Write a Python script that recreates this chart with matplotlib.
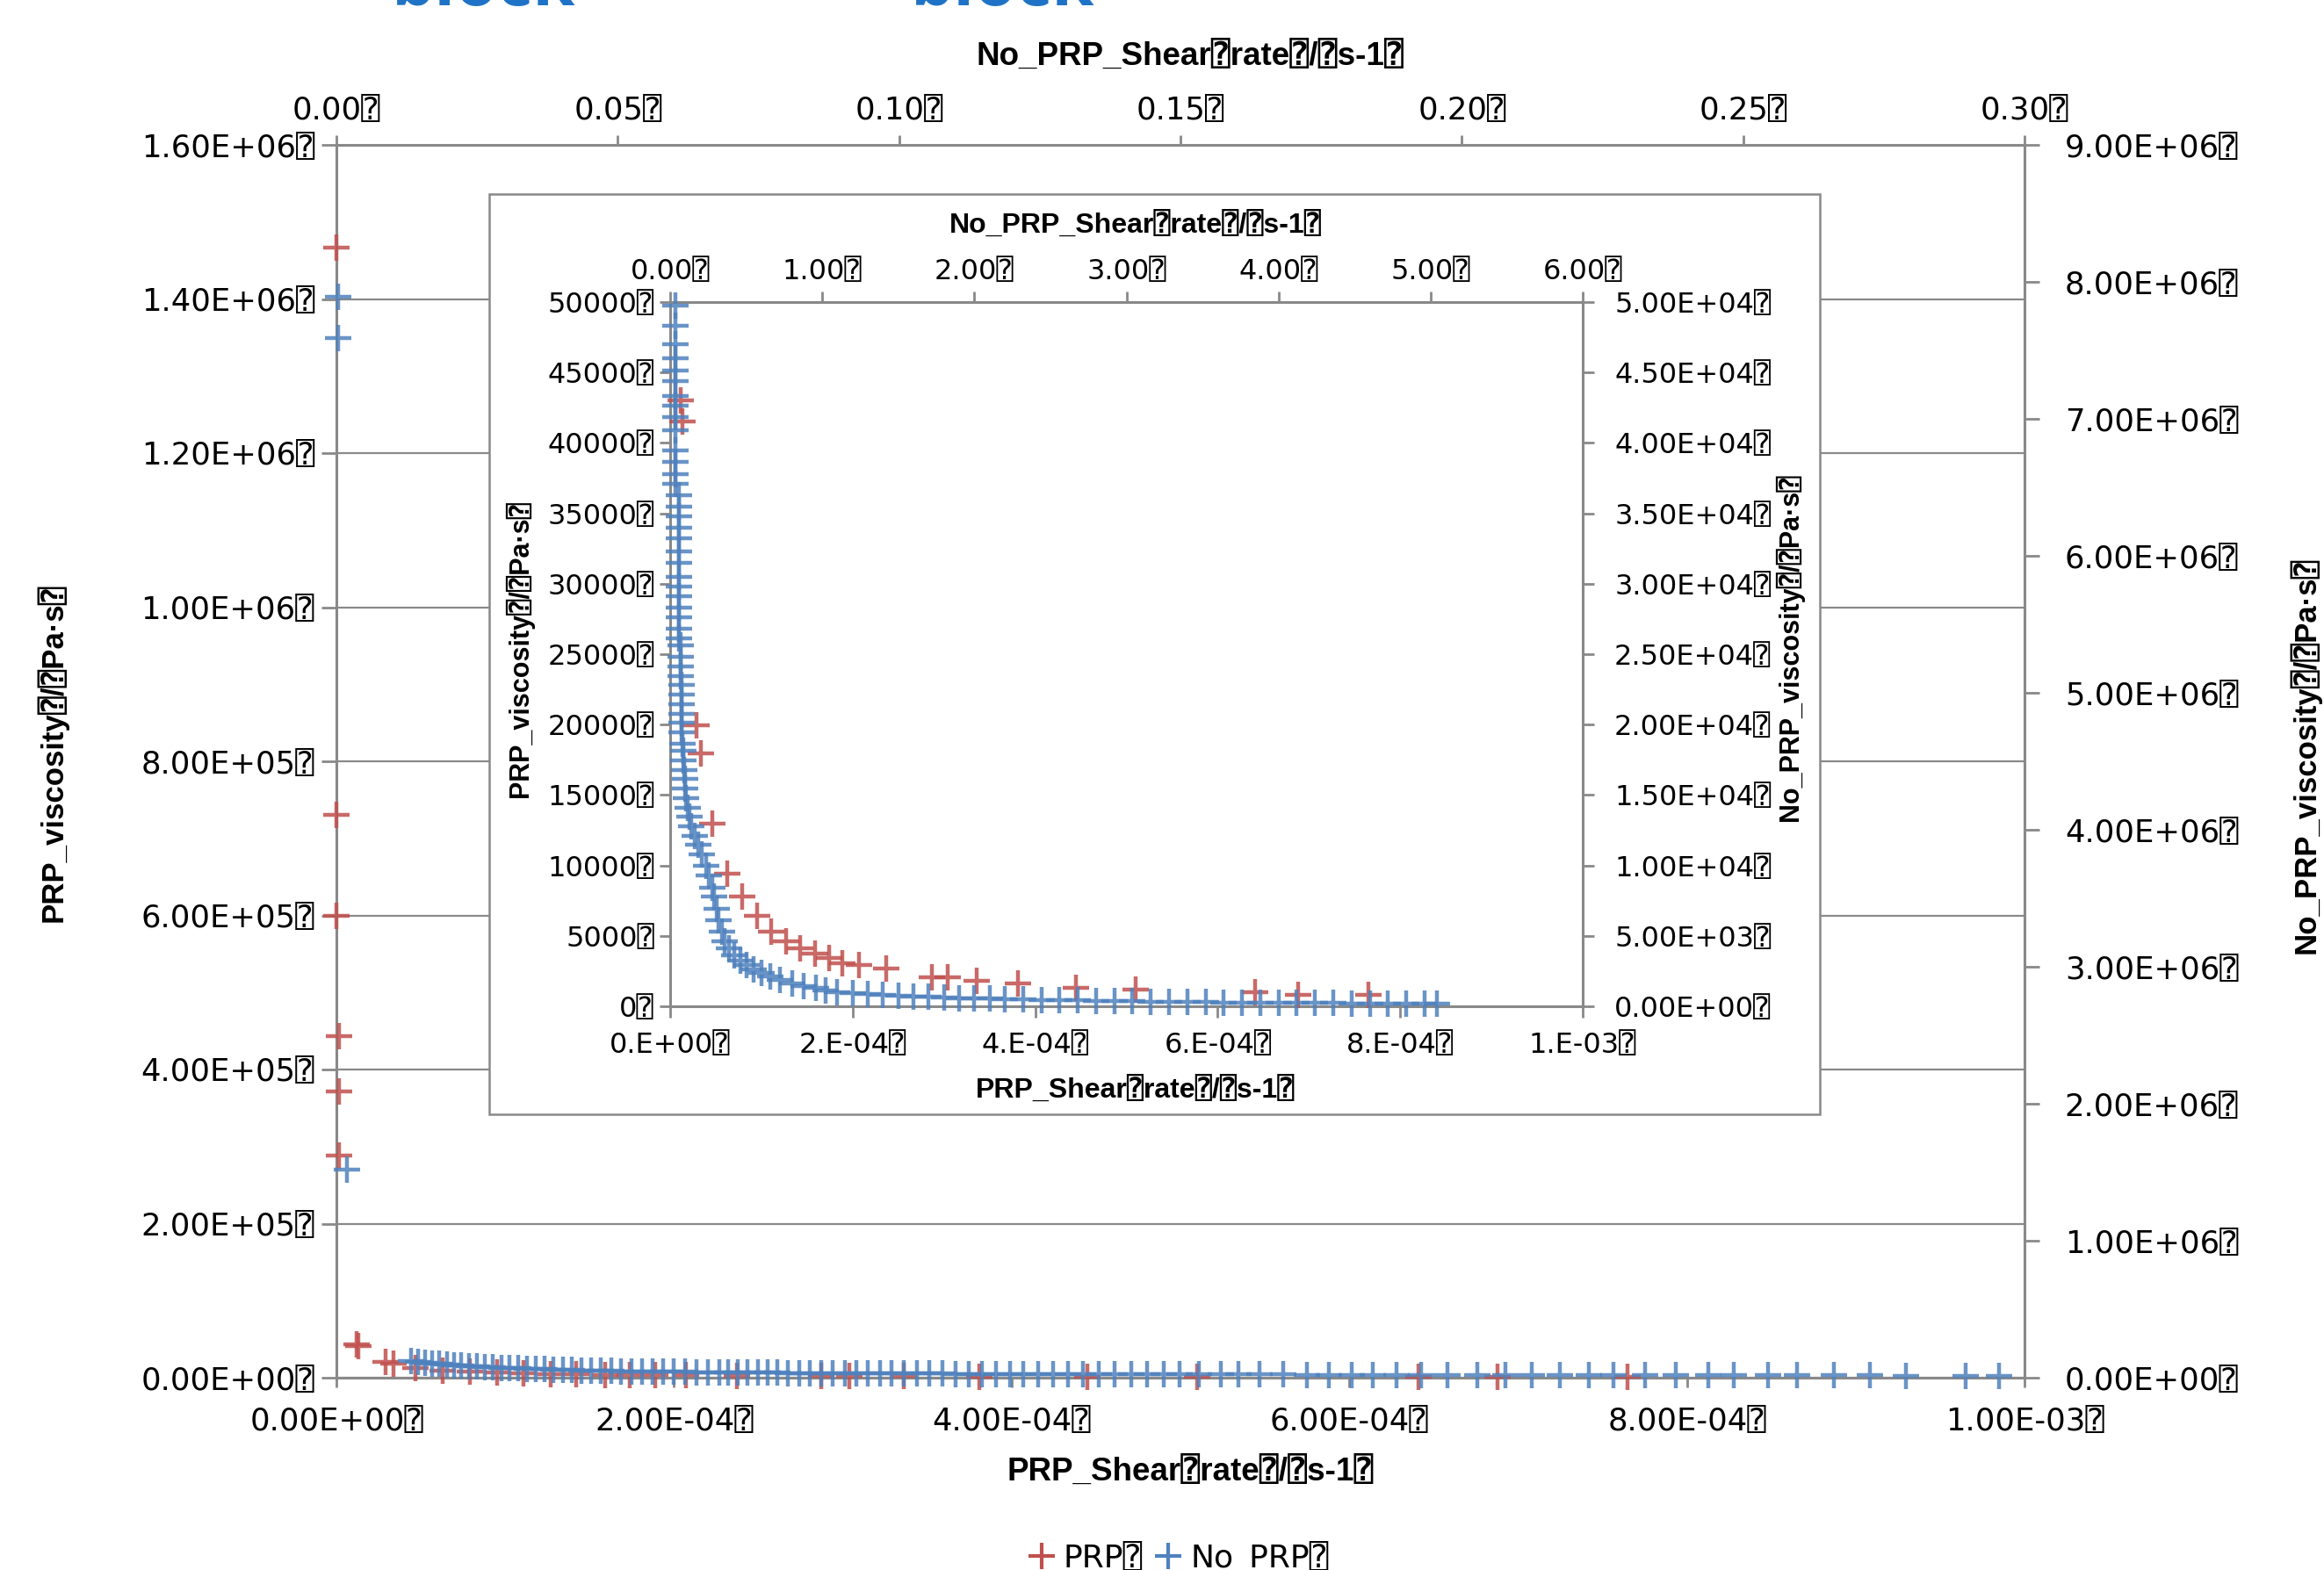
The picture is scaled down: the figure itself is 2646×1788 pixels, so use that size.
import matplotlib
matplotlib.use('Agg')
import matplotlib.pyplot as plt
from matplotlib.lines import Line2D
from matplotlib.patches import Rectangle
import numpy as np

plt.rcParams['font.family'] = ['DejaVu Sans', 'DejaVu Sans Mono']

Q = '\u2370'

# ---------------- data ----------------
# PRP series (shear rate s-1, viscosity Pa.s) - bottom / left axes
prp_rate = [0.0, 0.0, 0.0, 1.5e-6, 1.5e-6, 1.5e-6, 1.2e-5, 1.3e-5, 2.89e-5, 3.37e-5,
            4.66e-5, 6.3e-5, 7.9e-5, 9.5e-5, 1.11e-4, 1.27e-4, 1.42e-4, 1.59e-4, 1.74e-4,
            1.89e-4, 2.07e-4, 2.37e-4, 2.87e-4, 3.04e-4, 3.36e-4, 3.81e-4, 4.45e-4,
            5.10e-4, 6.41e-4, 6.88e-4, 7.65e-4]
prp_visc = [1.467e6, 7.30e5, 6.00e5, 4.43e5, 3.71e5, 2.88e5, 43000, 41500, 19970, 17970,
            12950, 9440, 7780, 6450, 5280, 4610, 4100, 3770, 3400,
            3050, 2900, 2670, 2040, 2040, 1830, 1620, 1300,
            1200, 990, 780, 780]

# No_PRP series as drawn in the main chart - top / right axes
main_noprp_rate = [0.0003, 0.0003, 0.0019,
    0.0133, 0.0145, 0.0158, 0.0170, 0.0183, 0.0196, 0.0209, 0.0222, 0.0236, 0.0250,
    0.0264, 0.0278, 0.0293, 0.0308, 0.0323, 0.0338, 0.0354, 0.0370, 0.0386, 0.0402,
    0.0419, 0.0436, 0.0453, 0.0470, 0.0488, 0.0506, 0.0524, 0.0543, 0.0562, 0.0581,
    0.0600, 0.0620, 0.0640, 0.0660, 0.0680,
    0.0696, 0.0713, 0.0731, 0.0749, 0.0766, 0.0784, 0.0803, 0.0822, 0.0842, 0.0862,
    0.0882, 0.0903, 0.0924, 0.0945, 0.0966, 0.0987, 0.1009, 0.1031, 0.1054, 0.1077,
    0.1100, 0.1124, 0.1148, 0.1172, 0.1197, 0.1221, 0.1247, 0.1273, 0.1300, 0.1327,
    0.1355, 0.1383, 0.1412, 0.1440, 0.1470,
    0.1498, 0.1533, 0.1572, 0.1603, 0.1640, 0.1682, 0.1725, 0.1764, 0.1804, 0.1842,
    0.1884, 0.1928, 0.1974, 0.2028, 0.2077, 0.2124, 0.2174, 0.2226, 0.2270, 0.2326,
    0.2380, 0.2438, 0.2483, 0.2544, 0.2596, 0.2661, 0.2725, 0.2789, 0.2896, 0.2954]
main_noprp_visc = [7.89e6, 7.59e6, 1.52e6,
    120000, 115000, 110000, 105000, 100000, 96000, 92000, 88000, 85000, 82000,
    79000, 76000, 73000, 70000, 68000, 66000, 64000, 62000, 60000, 58000,
    56000, 54000, 52000, 50000, 49000, 48000, 47000, 46000, 45000, 44000,
    43000, 42000, 41000, 40000, 39000,
    38000, 37500, 37000, 36500, 36000, 35500, 35000, 34500, 34000, 33500,
    33000, 32500, 32000, 31600, 31200, 30800, 30400, 30000, 29600, 29200,
    28800, 28400, 28000, 27700, 27400, 27100, 26800, 26500, 26200, 25900,
    25600, 25300, 25000, 24700, 24400,
    24100, 23800, 23500, 23200, 22900, 22600, 22300, 22000, 21700, 21400,
    21100, 20800, 20500, 20200, 19900, 19600, 19300, 19000, 18700, 18400,
    18100, 17800, 17500, 17200, 16900, 16600, 16300, 16000, 15500, 15200]

# No_PRP series as drawn in the inset - top / right axes of the inset
inset_noprp_rate = [
    0.034, 0.034, 0.035, 0.035, 0.035, 0.035, 0.036, 0.036, 0.036, 0.036, 0.037, 0.037, 0.037, 0.037,
    0.055, 0.055, 0.055, 0.056, 0.056, 0.056, 0.056, 0.057, 0.057, 0.057, 0.058, 0.058, 0.058, 0.059,
    0.071, 0.071, 0.072, 0.072, 0.073, 0.073, 0.074, 0.074, 0.075, 0.076, 0.078,
    0.085, 0.088, 0.092, 0.096, 0.100, 0.105, 0.115, 0.125, 0.140, 0.160, 0.185, 0.210,
    0.235, 0.255, 0.275, 0.290, 0.305, 0.320, 0.340, 0.360, 0.385, 0.420, 0.460, 0.500,
    0.550, 0.600, 0.660, 0.720, 0.800, 0.880, 0.960, 1.020,
    1.10, 1.20, 1.30, 1.40, 1.50, 1.60, 1.70, 1.80, 1.90, 2.00, 2.10, 2.20, 2.32, 2.44,
    2.56, 2.68, 2.80, 2.92, 3.04, 3.16, 3.28, 3.40, 3.52, 3.64, 3.76, 3.88, 4.00, 4.12,
    4.24, 4.36, 4.48, 4.60, 4.72, 4.84, 4.96, 5.04]
inset_noprp_visc = [
    49760, 48320, 46990, 45990, 45150, 44390, 43320, 42650, 41820, 40880, 39480, 38650, 37810, 37080,
    36310, 35480, 34800, 33970, 33210, 32310, 31470, 30470, 29800, 29130, 28300, 27630, 26800, 26130,
    25640, 24800, 24130, 23460, 22800, 22130, 21460, 20790, 20120, 19460, 18620,
    18120, 17460, 16790, 16120, 15450, 14780, 14110, 13450, 12780, 12120, 11450, 10780,
    9950, 9280, 8440, 7780, 6950, 6110, 5280, 4610, 4110, 3610, 3270, 2940,
    2600, 2370, 2110, 1870, 1600, 1440, 1280, 1100,
    1000, 930, 860, 800, 750, 700, 660, 620, 590, 560, 530, 500, 470, 450,
    430, 410, 390, 370, 350, 335, 320, 305, 290, 280, 270, 260, 250, 240,
    230, 220, 210, 200, 190, 180, 170, 160]

# tick values / labels
main_x_ticks = [0, 2e-4, 4e-4, 6e-4, 8e-4, 1e-3]
main_x_labels = ['0.00E+00', '2.00E-04', '4.00E-04', '6.00E-04', '8.00E-04', '1.00E-03']
main_top_ticks = [0.0, 0.05, 0.10, 0.15, 0.20, 0.25, 0.30]
main_top_labels = ['0.00', '0.05', '0.10', '0.15', '0.20', '0.25', '0.30']
main_y_ticks = [0, 2e5, 4e5, 6e5, 8e5, 1e6, 1.2e6, 1.4e6, 1.6e6]
main_y_labels = ['0.00E+00', '2.00E+05', '4.00E+05', '6.00E+05', '8.00E+05',
                 '1.00E+06', '1.20E+06', '1.40E+06', '1.60E+06']
main_r_ticks = [0, 1e6, 2e6, 3e6, 4e6, 5e6, 6e6, 7e6, 8e6, 9e6]
main_r_labels = ['0.00E+00', '1.00E+06', '2.00E+06', '3.00E+06', '4.00E+06',
                 '5.00E+06', '6.00E+06', '7.00E+06', '8.00E+06', '9.00E+06']
ins_x_ticks = [0, 2e-4, 4e-4, 6e-4, 8e-4, 1e-3]
ins_x_labels = ['0.E+00', '2.E-04', '4.E-04', '6.E-04', '8.E-04', '1.E-03']
ins_top_ticks = [0, 1, 2, 3, 4, 5, 6]
ins_top_labels = ['0.00', '1.00', '2.00', '3.00', '4.00', '5.00', '6.00']
ins_y_ticks = [0, 5000, 10000, 15000, 20000, 25000, 30000, 35000, 40000, 45000, 50000]
ins_y_labels = ['0', '5000', '10000', '15000', '20000', '25000', '30000', '35000',
                '40000', '45000', '50000']
ins_r_ticks = [0, 5e3, 1e4, 1.5e4, 2e4, 2.5e4, 3e4, 3.5e4, 4e4, 4.5e4, 5e4]
ins_r_labels = ['0.00E+00', '5.00E+03', '1.00E+04', '1.50E+04', '2.00E+04', '2.50E+04',
                '3.00E+04', '3.50E+04', '4.00E+04', '4.50E+04', '5.00E+04']

series_names = ['PRP', 'No_PRP']

# ---------------- style ----------------
RED = '#C0504D'
BLUE = '#4F81BD'
GRAY = '#898989'
TITLE_FONT = ['Liberation Sans Narrow', 'Liberation Sans', 'DejaVu Sans', 'DejaVu Sans Mono']

W, H = 2646, 1788
fig = plt.figure(figsize=(W / 100, H / 100), dpi=100)


def rect(l, t, r, b):
    return [l / W, 1 - b / H, (r - l) / W, (b - t) / H]


def fxy(x, y):
    return x / W, 1 - y / H


def q(labels):
    return [s + Q for s in labels]


mk = dict(marker='+', ls='none', mew=3.2, alpha=0.85, clip_on=False)

MT = 25.5   # main tick label size
IT = 23     # inset tick label size

# ---- main axes ----
mrect = rect(383, 165, 2305, 1569)
ax = fig.add_axes(mrect, zorder=0)
ax2 = fig.add_axes(mrect, zorder=1, facecolor='none')

ax.set_xlim(0, 1e-3)
ax.set_ylim(0, 1.6e6)
ax.set_xticks(main_x_ticks)
ax.set_xticklabels(q(main_x_labels))
ax.set_yticks(main_y_ticks)
ax.set_yticklabels(q(main_y_labels))
ax.yaxis.grid(True, color=GRAY, lw=1.6)
ax.set_axisbelow(True)
for s in ax.spines.values():
    s.set_color(GRAY)
    s.set_linewidth(2.2)
ax.tick_params(axis='x', direction='out', length=8, width=2, color=GRAY,
               labelsize=MT, pad=16)
ax.tick_params(axis='y', direction='out', length=12, width=2, color=GRAY,
               labelsize=MT, pad=6)

ax2.set_xlim(0, 0.30)
ax2.set_ylim(0, 9e6)
ax2.xaxis.tick_top()
ax2.yaxis.tick_right()
ax2.set_xticks(main_top_ticks)
ax2.set_xticklabels(q(main_top_labels))
ax2.set_yticks(main_r_ticks)
ax2.set_yticklabels(q(main_r_labels))
for s in ax2.spines.values():
    s.set_visible(False)
ax2.tick_params(axis='x', direction='out', length=8, width=2, color=GRAY,
                labelsize=MT, pad=8)
ax2.tick_params(axis='y', direction='out', length=12, width=2, color=GRAY,
                labelsize=MT, pad=21)

ax.plot(prp_rate, prp_visc, color=RED, ms=22, zorder=3, **mk)
ax2.plot(main_noprp_rate, main_noprp_visc, color=BLUE, ms=22, zorder=3, **mk)

# ---- inset frame ----
fig.add_artist(Rectangle(fxy(557, 1269), (2072 - 557) / W, (1269 - 221) / H,
                         transform=fig.transFigure, facecolor='white',
                         edgecolor=GRAY, lw=1.8, zorder=2))

# ---- inset axes ----
irect = rect(763, 344, 1802, 1146)
ins = fig.add_axes(irect, zorder=3)
ins2 = fig.add_axes(irect, zorder=4, facecolor='none')

ins.set_xlim(0, 1e-3)
ins.set_ylim(0, 50000)
ins.set_xticks(ins_x_ticks)
ins.set_xticklabels(q(ins_x_labels))
ins.set_yticks(ins_y_ticks)
ins.set_yticklabels(q(ins_y_labels))
for s in ins.spines.values():
    s.set_color(GRAY)
    s.set_linewidth(2.2)
ins.tick_params(axis='x', direction='out', length=9, width=2, color=GRAY,
                labelsize=IT, pad=12)
ins.tick_params(axis='y', direction='out', length=9, width=2, color=GRAY,
                labelsize=IT, pad=4)

ins2.set_xlim(0, 6)
ins2.set_ylim(0, 50000)
ins2.xaxis.tick_top()
ins2.yaxis.tick_right()
ins2.set_xticks(ins_top_ticks)
ins2.set_xticklabels(q(ins_top_labels))
ins2.set_yticks(ins_r_ticks)
ins2.set_yticklabels(q(ins_r_labels))
for s in ins2.spines.values():
    s.set_visible(False)
ins2.tick_params(axis='x', direction='out', length=9, width=2, color=GRAY,
                 labelsize=IT, pad=5)
ins2.tick_params(axis='y', direction='out', length=9, width=2, color=GRAY,
                 labelsize=IT, pad=17)

prx = np.array(prp_rate)
pry = np.array(prp_visc)
m = pry <= 50000
ins.plot(prx[m], pry[m], color=RED, ms=21, zorder=3, **mk)
ins2.plot(inset_noprp_rate, inset_noprp_visc, color=BLUE, ms=21, zorder=3, **mk)

# ---- axis titles ----
def title(x, y, s, size, rot=0):
    fig.text(*fxy(x, y), s, ha='center', va='center', rotation=rot,
             fontsize=size, fontweight='bold', family=TITLE_FONT)

title(1355, 64, 'No_PRP_Shear' + Q + 'rate' + Q + '/' + Q + 's-1' + Q, 26.5)
title(1355, 1676, 'PRP_Shear' + Q + 'rate' + Q + '/' + Q + 's-1' + Q, 26.5)
title(59, 857, 'PRP_viscosity' + Q + '/' + Q + 'Pa·s' + Q, 25, 90)
title(2624, 860, 'No_PRP_viscosity' + Q + '/' + Q + 'Pa·s' + Q, 25, 90)
title(1293, 257, 'No_PRP_Shear' + Q + 'rate' + Q + '/' + Q + 's-1' + Q, 23)
title(1293, 1242, 'PRP_Shear' + Q + 'rate' + Q + '/' + Q + 's-1' + Q, 23)
title(591, 739, 'PRP_viscosity' + Q + '/' + Q + 'Pa·s' + Q, 22, 90)
title(2037, 737, 'No_PRP_viscosity' + Q + '/' + Q + 'Pa·s' + Q, 22, 90)

# ---- partially visible heading text (cut by the top edge, as in the reference) ----
for xc in (551, 1142):
    fig.text(*fxy(xc, 6), 'block', ha='center', va='baseline', fontsize=56,
             fontweight='bold', color='#1F73C6', family=['Open Sans', 'DejaVu Sans'])

# ---- legend ----
handles = [Line2D([], [], color=RED, marker='+', ls='none', ms=21, mew=3),
           Line2D([], [], color=BLUE, marker='+', ls='none', ms=21, mew=3)]
fig.legend(handles, [n + Q for n in series_names], loc='center',
           bbox_to_anchor=fxy(1342, 1774), ncol=2, frameon=False, fontsize=26,
           handlelength=0.8, handletextpad=0.3, columnspacing=0.4)

fig.savefig('out.png', dpi=100)
